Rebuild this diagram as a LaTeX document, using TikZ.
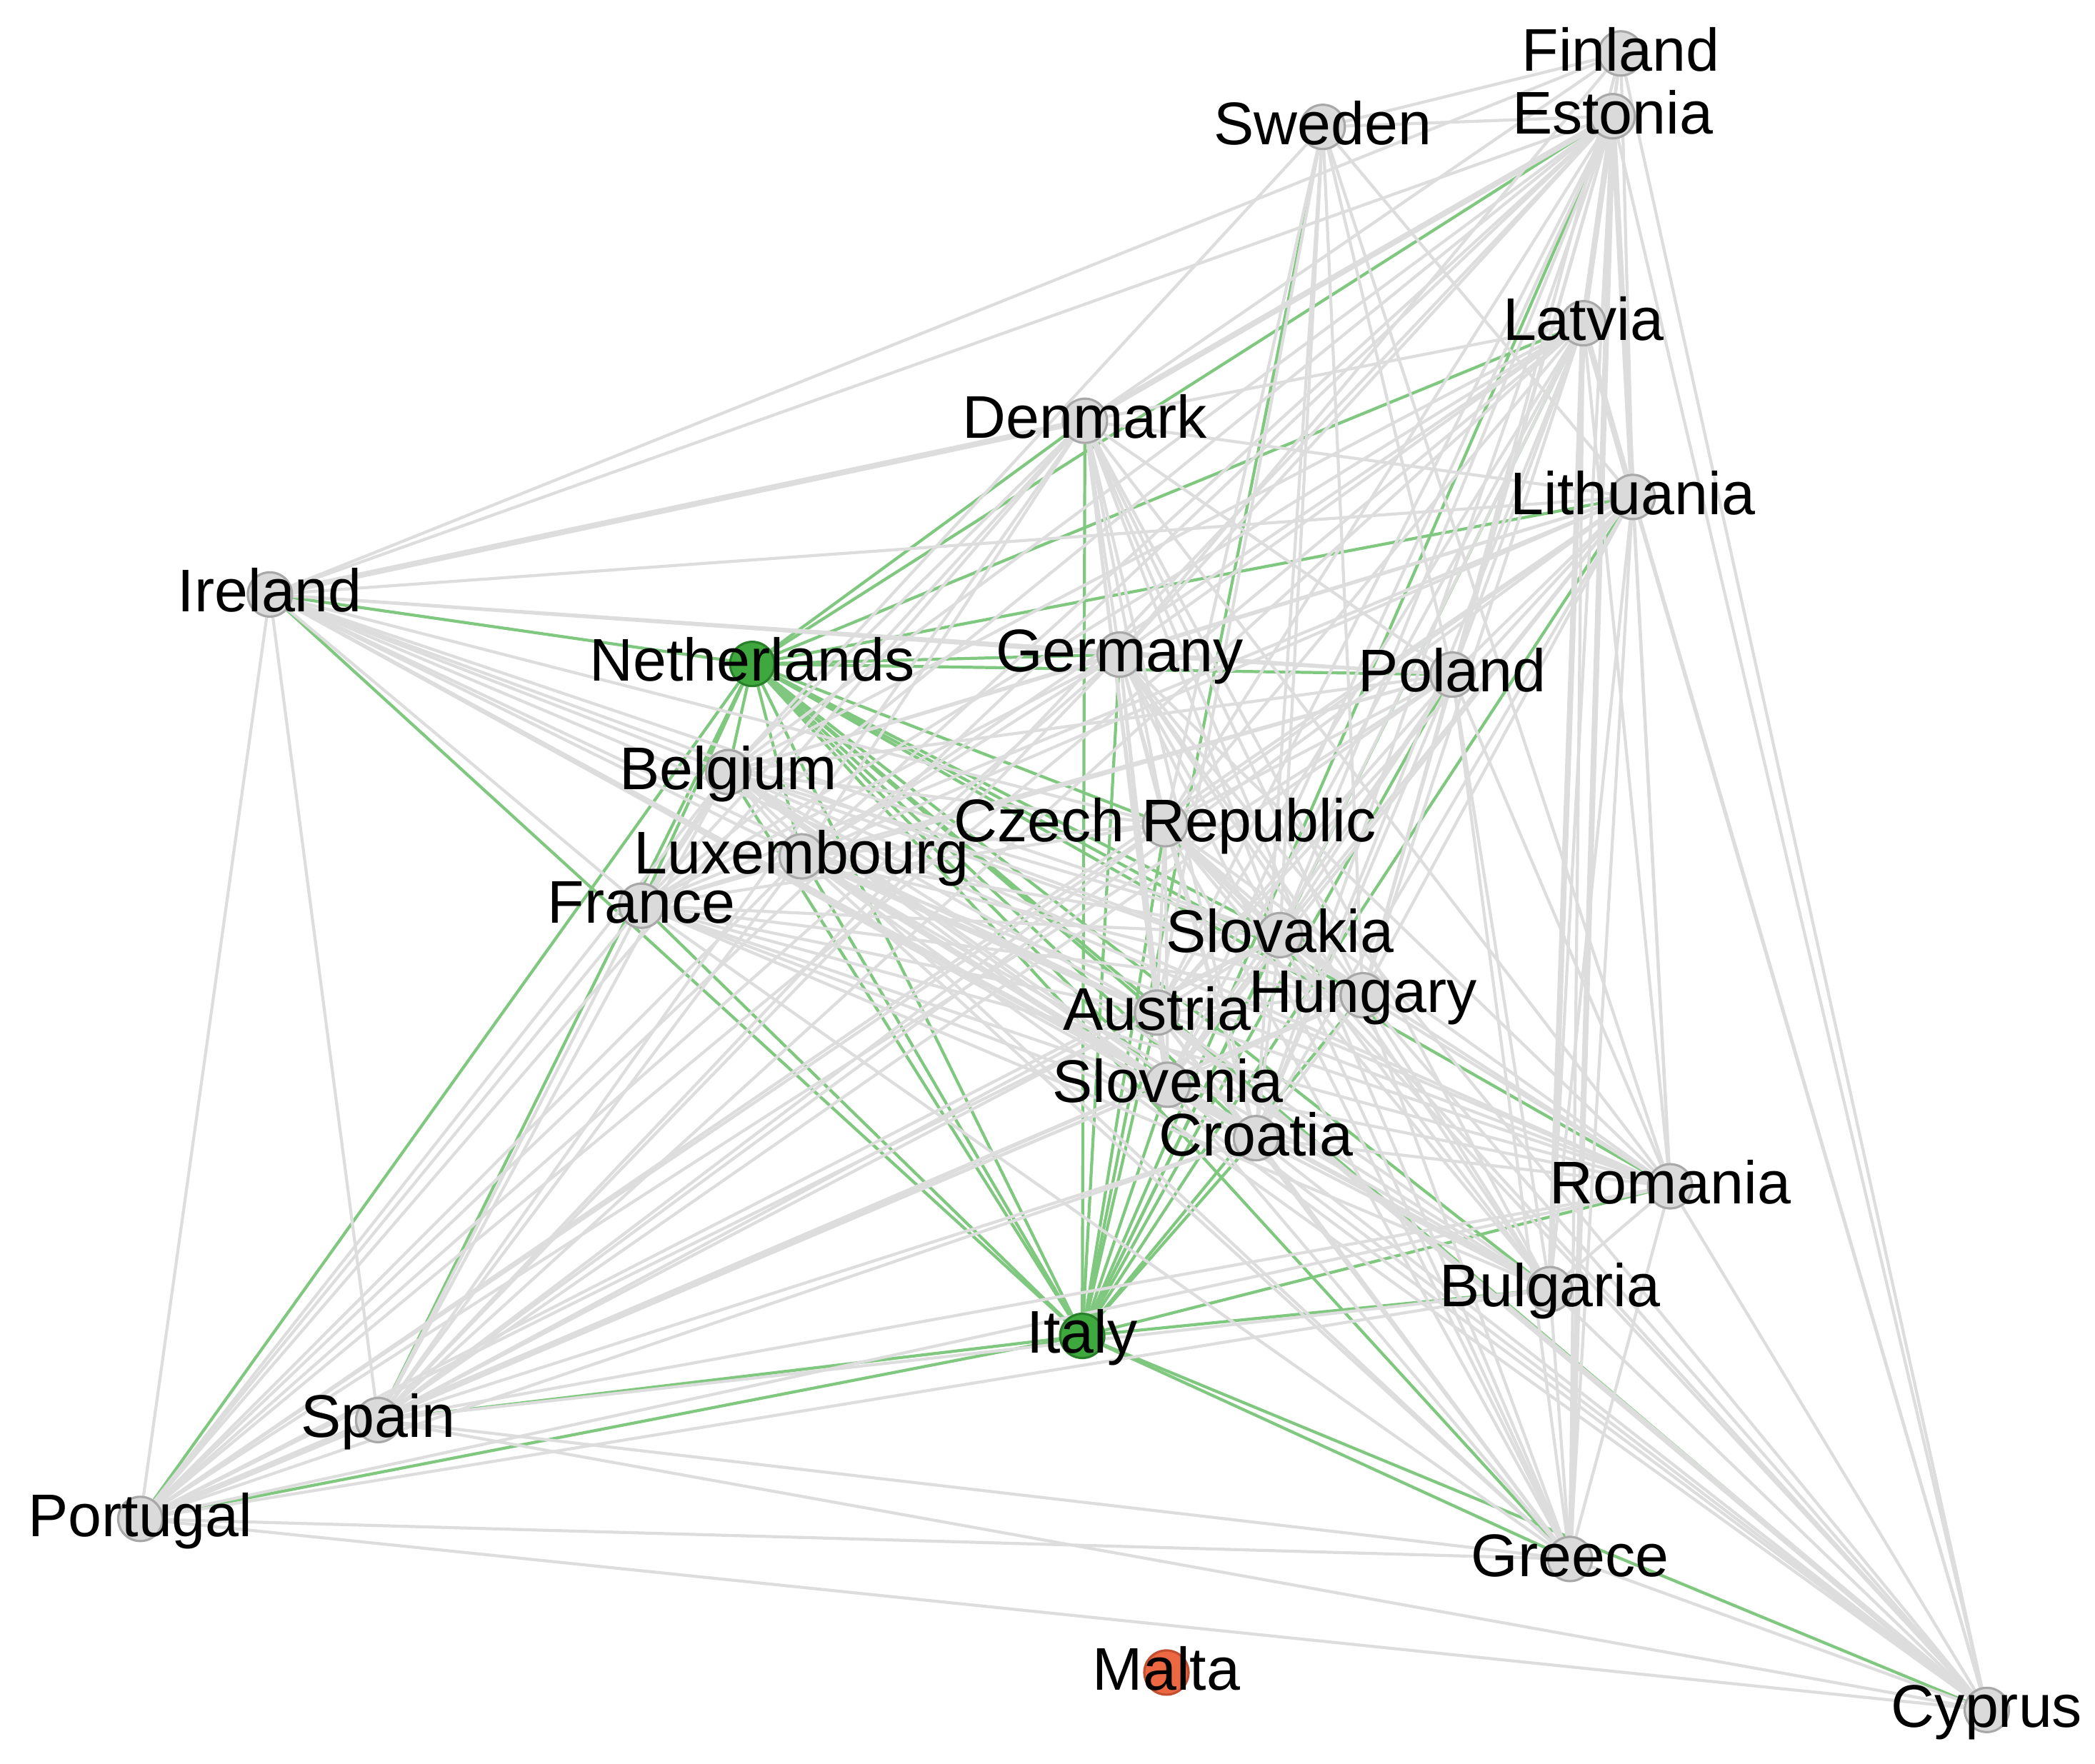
\documentclass[tikz,border=0pt]{standalone}
\usepackage{fontspec}
\setmainfont{Liberation Sans}
\pgfdeclarelayer{bg}
\pgfsetlayers{bg,main}
\definecolor{edgegrey}{RGB}{221,221,221}
\definecolor{edgegreen}{RGB}{128,200,128}
\definecolor{nodegrey}{RGB}{218,218,218}
\definecolor{nodeline}{RGB}{168,168,168}
\definecolor{nodegreen}{RGB}{62,168,62}
\definecolor{nodegreenline}{RGB}{40,128,40}
\definecolor{nodeorange}{RGB}{236,104,66}
\definecolor{nodeorangeline}{RGB}{196,78,48}
\begin{document}
\begin{tikzpicture}[x=0.018705cm,y=-0.018705cm,
  country/.style={circle,draw=nodeline,fill=nodegrey,line width=0.9pt,minimum size=0.62cm,inner sep=0pt},
  selnode/.style={country,draw=nodegreenline,fill=nodegreen},
  isonode/.style={country,draw=nodeorangeline,fill=nodeorange},
  lbl/.style={anchor=base,inner sep=0pt,text=black,font=\fontsize{24pt}{28pt}\selectfont},
  gedge/.style={draw=edgegrey,line width=1.2pt},
  wedge/.style={draw=edgegrey,line width=2.3pt},
  hedge/.style={draw=edgegreen,line width=1.2pt}]
\useasboundingbox (0,0) rectangle (1568,1320);

% nodes
\foreach \n/\x/\y in {FI/1213/40, EE/1207/87, SE/990/95, LV/1185/242, DK/812/315,
  LT/1222/372, IE/202/445, DE/838/490, PL/1087/505, BE/545/578, CZ/872/617,
  LU/600/641, FR/480/678, SK/958/700, HU/1020/745, AT/866/758, SI/874/812,
  HR/940/852, RO/1250/888, BG/1160/965, ES/283/1063, PT/105/1137, GR/1175/1167,
  CY/1487/1280}
  \node[country] (\n) at (\x,\y) {};
\node[selnode] (NL) at (563,497) {};
\node[selnode] (IT) at (810,1000) {};
\node[isonode] (MT) at (873,1252) {};

% labels
\foreach \n/\x/\y/\t in {FI/1213/40/Finland, EE/1207/87/Estonia, SE/990/95/Sweden,
  LV/1185/242/Latvia, DK/812/315/Denmark, LT/1222/372/Lithuania, IE/202/445/Ireland,
  NL/563/497/Netherlands, DE/838/490/Germany, PL/1087/505/Poland, BE/545/578/Belgium,
  CZ/872/617/Czech Republic, LU/600/641/Luxembourg, FR/480/678/France,
  SK/958/700/Slovakia, HU/1020/745/Hungary, AT/866/758/Austria, SI/874/812/Slovenia,
  HR/940/852/Croatia, RO/1250/888/Romania, BG/1160/965/Bulgaria, IT/810/1000/Italy,
  ES/283/1063/Spain, PT/105/1137/Portugal, GR/1175/1167/Greece, MT/873/1252/Malta,
  CY/1487/1280/Cyprus}
  \node[lbl] (\n lbl) at (\x,\y+13) {\t};

\begin{pgfonlayer}{bg}
% green edges (Netherlands and Italy)
\foreach \b in {IE,DK,EE,LV,LT,DE,PL,BE,CZ,LU,FR,SK,HU,AT,SI,HR,RO,BG,GR,CY,IT,ES,PT}
  \draw[hedge] (NL) -- (\b);
\foreach \b in {IE,FR,ES,PT,BE,LU,DK,SE,EE,LV,LT,DE,PL,CZ,SK,HU,AT,SI,HR,RO,BG,GR,CY}
  \draw[hedge] (IT) -- (\b);
% core: dense cluster
\foreach [count=\i] \a in {EE,LV,LT,DK,DE,PL,BE,CZ,LU,FR,SK,HU,AT,SI,HR,RO,BG,GR,ES,PT}{
  \foreach [count=\j] \b in {EE,LV,LT,DK,DE,PL,BE,CZ,LU,FR,SK,HU,AT,SI,HR,RO,BG,GR,ES,PT}{
    \ifnum\j>\i \draw[gedge] (\a) -- (\b);\fi
  }
}
% peripheral connections
\foreach \a/\b in {FI/SE, FI/EE, FI/IE, FI/LV, FI/LT, FI/CY, FI/DK, FI/PL, FI/DE,
  SE/EE, SE/BE, SE/CZ, SE/AT, SE/SK, SE/HU, SE/PL, SE/LT, SE/RO, SE/HR,
  IE/EE, IE/DK, IE/LT, IE/DE, IE/PL, IE/BE, IE/LU, IE/FR, IE/CZ, IE/SK, IE/HU,
  IE/AT, IE/SI, IE/HR, IE/RO, IE/BG, IE/ES, IE/PT,
  CY/EE, CY/LV, CY/LT, CY/RO, CY/BG, CY/GR, CY/HR, CY/SI, CY/AT, CY/HU, CY/SK,
  CY/CZ, CY/LU, CY/BE, CY/DE, CY/PT, CY/ES}
  \draw[gedge] (\a) -- (\b);
% heavier links
\foreach \a/\b in {EE/LV, EE/LT, LV/LT, IE/DK, DK/EE, EE/GR, LV/BG, AT/SI, SI/HR,
  CZ/SK, AT/CY, LU/AT, BE/FR, ES/PT, LU/SI, SK/HU}
  \draw[wedge] (\a) -- (\b);
\end{pgfonlayer}
\end{tikzpicture}
\end{document}
